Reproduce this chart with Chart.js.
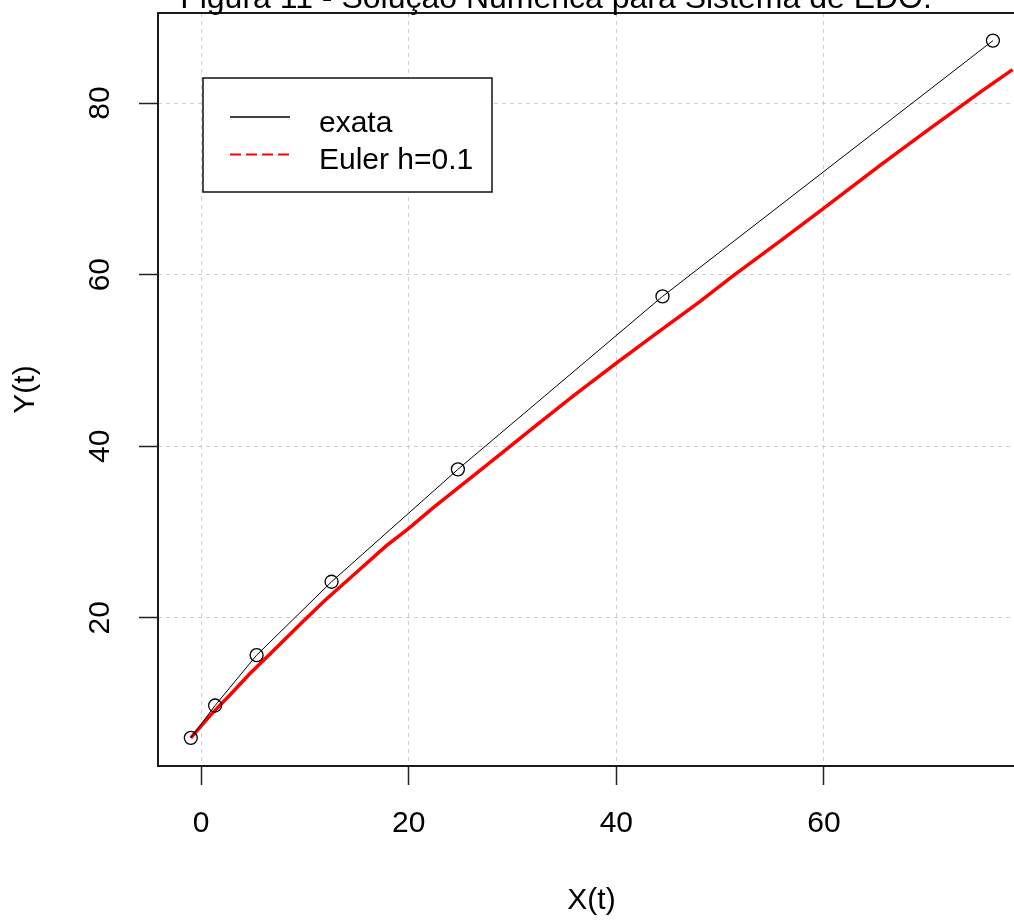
<!DOCTYPE html>
<html><head><meta charset="utf-8">
<script src="https://cdn.jsdelivr.net/npm/chart.js@4.4.1/dist/chart.umd.min.js"></script>
<style>
html,body{margin:0;padding:0;background:#fff;overflow:hidden;width:1014px;height:920px}
#wrap{width:1040px;height:920px;position:relative}
</style></head>
<body><div id="wrap"><canvas id="c" width="1040" height="920"></canvas></div>
<script>
// ---- data ----
const titleText = 'Figura 11 - Solução Numérica para Sistema de EDO.';
const xLabel = 'X(t)';
const yLabel = 'Y(t)';
const seriesNames = ['exata', 'Euler h=0.1'];
const exactX = [-0.99, 1.35, 5.35, 12.57, 24.74, 44.45, 76.28];
const exactY = [6.0, 9.77, 15.64, 24.2, 37.3, 57.46, 87.28];
const eulerX = [-0.99, 0.87, 2.78, 4.71, 6.32, 7.91, 9.84, 12.0, 14.33, 17.86, 20.1, 22.34, 25.55, 28.75, 31.95, 35.8, 40.13, 43.8, 47.98, 51.18, 56.0, 59.84, 65.6, 70.4, 75.2, 78.17];
const eulerY = [6.0, 8.6, 11.0, 13.5, 15.4, 17.3, 19.6, 22.1, 24.6, 28.4, 30.5, 32.8, 35.9, 39.0, 42.1, 45.8, 49.8, 53.1, 56.8, 59.8, 64.1, 67.6, 72.9, 77.2, 81.4, 83.9];
const xTicks = [0, 20, 40, 60];
const yTicks = [20, 40, 60, 80];
const xRange = [-4.15, 79.37];
const yRange = [2.72, 90.5];

const FONT = "'Liberation Sans', Arial, sans-serif";

const toPts = (xs, ys) => xs.map((x, i) => ({x, y: ys[i]}));

const decor = {
  id: 'decor',
  afterDatasetsDraw(chart) {
    const {ctx, chartArea: a} = chart;
    ctx.save();
    // plot box
    ctx.strokeStyle = '#1a1a1a';
    ctx.lineWidth = 2;
    ctx.setLineDash([]);
    ctx.strokeRect(a.left, a.top, a.right - a.left, a.bottom - a.top);
    // legend
    const lx = a.left + 45, ly = a.top + 65, lw = 289, lh = 114;
    ctx.fillStyle = '#fff';
    ctx.fillRect(lx, ly, lw, lh);
    ctx.lineWidth = 1.5;
    ctx.strokeStyle = '#111';
    ctx.strokeRect(lx, ly, lw, lh);
    const rowsLine = [ly + 39, ly + 76.5];
    const rowsText = [ly + 54, ly + 90.5];
    chart.data.datasets.forEach((ds, i) => {
      ctx.beginPath();
      ctx.strokeStyle = ds.borderColor;
      ctx.lineWidth = ds.legendWidth;
      ctx.setLineDash(ds.legendDash || []);
      ctx.moveTo(lx + 27, rowsLine[i]);
      ctx.lineTo(lx + 87, rowsLine[i]);
      ctx.stroke();
      ctx.setLineDash([]);
      ctx.fillStyle = '#000';
      ctx.font = '30px ' + FONT;
      ctx.textAlign = 'left';
      ctx.textBaseline = 'alphabetic';
      ctx.fillText(ds.label, lx + 116, rowsText[i]);
    });
    // main title
    ctx.fillStyle = '#000';
    ctx.font = '32px ' + FONT;
    ctx.textAlign = 'center';
    ctx.textBaseline = 'alphabetic';
    ctx.fillText(titleText, 556, 8);
    ctx.restore();
  }
};

new Chart(document.getElementById('c'), {
  type: 'scatter',
  data: {
    datasets: [
      {
        label: seriesNames[0],
        data: toPts(exactX, exactY),
        showLine: true,
        borderColor: '#000',
        borderWidth: 1,
        pointRadius: 6.5,
        pointHoverRadius: 6.5,
        pointBorderWidth: 1.3,
        pointBorderColor: '#000',
        pointBackgroundColor: 'rgba(0,0,0,0)',
        legendWidth: 1.5,
        legendDash: []
      },
      {
        label: seriesNames[1],
        data: toPts(eulerX, eulerY),
        showLine: true,
        borderColor: '#ff0000',
        borderWidth: 3.5,
        pointRadius: 0,
        pointHoverRadius: 0,
        legendWidth: 2,
        legendDash: [11, 5]
      }
    ]
  },
  options: {
    responsive: false,
    animation: false,
    devicePixelRatio: 1,
    layout: {padding: {left: 0, right: 15, top: 13, bottom: 0}},
    plugins: {legend: {display: false}, tooltip: {enabled: false}, title: {display: false}},
    scales: {
      x: {
        type: 'linear', position: 'bottom',
        min: xRange[0], max: xRange[1],
        afterBuildTicks: s => { s.ticks = xTicks.map(v => ({value: v})); },
        afterFit: s => { s.height = 154; s.paddingLeft = 0; s.paddingRight = 0; },
        ticks: {font: {family: FONT, size: 30}, color: '#000', padding: 21, maxRotation: 0, minRotation: 0},
        grid: {color: '#cfcfcf', lineWidth: 1, drawTicks: true, tickLength: 19, tickColor: '#222', tickWidth: 1.5},
        border: {display: false, dash: [4, 4]},
        title: {display: true, text: xLabel, font: {family: FONT, size: 30}, color: '#000', padding: {top: 0, bottom: 1}}
      },
      y: {
        type: 'linear', position: 'left',
        min: yRange[0], max: yRange[1],
        afterBuildTicks: s => { s.ticks = yTicks.map(v => ({value: v})); },
        afterFit: s => { s.width = 158; s.paddingTop = 0; s.paddingBottom = 0; },
        ticks: {font: {family: FONT, size: 30}, color: '#000', padding: 22, minRotation: 90, maxRotation: 90, crossAlign: 'center'},
        grid: {color: '#cfcfcf', lineWidth: 1, drawTicks: true, tickLength: 19, tickColor: '#222', tickWidth: 1.5},
        border: {display: false, dash: [4, 4]},
        title: {display: true, text: yLabel, font: {family: FONT, size: 30}, color: '#000', padding: {top: 7.5, bottom: 0}}
      }
    }
  },
  plugins: [decor]
});
</script>
</body></html>
